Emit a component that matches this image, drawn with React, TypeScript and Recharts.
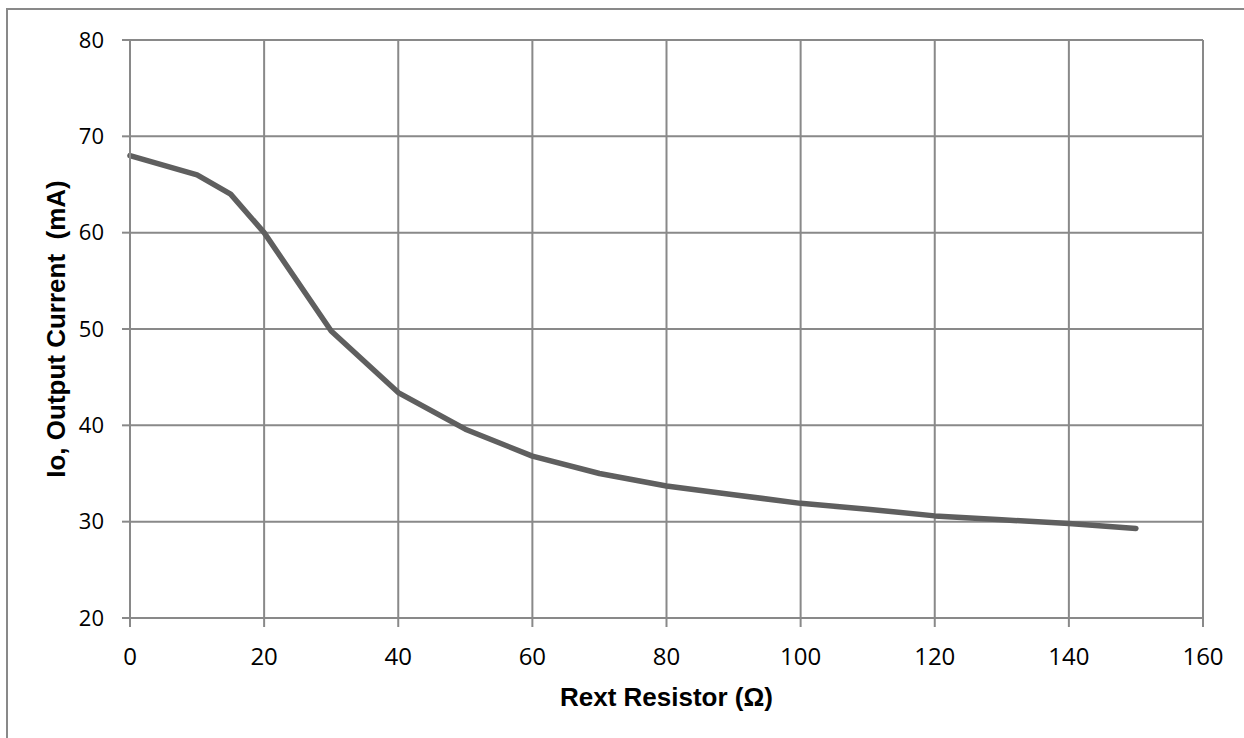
import React from 'react';
import { LineChart, Line, XAxis, YAxis, CartesianGrid, Label } from 'recharts';

// Rext resistor (ohm) vs output current (mA)
const resistance = [0, 10, 15, 20, 30, 40, 50, 60, 70, 80, 90, 100, 110, 120, 130, 140, 150];
const current = [68, 66, 64, 60, 49.8, 43.4, 39.6, 36.8, 35.0, 33.7, 32.8, 31.9, 31.3, 30.6, 30.2, 29.8, 29.3];
const xTicks = [0, 20, 40, 60, 80, 100, 120, 140, 160];
const yTicks = [20, 30, 40, 50, 60, 70, 80];

const data = resistance.map((r, i) => ({ r, io: current[i] }));

const GRID = '#898989';
const TITLE_FONT = '"Liberation Sans", Arial, sans-serif';
const TICK_FONT = '"Open Sans", "Noto Sans", sans-serif';

const XTitle = (props: any) => {
  const { x, y, width } = props.viewBox;
  return (
    <text
      x={x + width / 2}
      y={y + 88}
      textAnchor="middle"
      fontFamily={TITLE_FONT}
      fontWeight="bold"
      fontSize={26}
      fill="#000"
    >
      Rext Resistor (Ω)
    </text>
  );
};

const YTitle = (props: any) => {
  const { y, height } = props.viewBox;
  const cx = 65;
  const cy = y + height / 2;
  return (
    <text
      x={cx}
      y={cy}
      transform={`rotate(-90 ${cx} ${cy})`}
      textAnchor="middle"
      fontFamily={TITLE_FONT}
      fontWeight="bold"
      fontSize={26}
      fill="#000"
      style={{ whiteSpace: 'pre' }}
    >
      {'Io, Output Current  (mA)'}
    </text>
  );
};

export default function App() {
  return (
    <div
      style={{
        position: 'absolute',
        left: 0,
        top: 0,
        width: 1244,
        height: 738,
        overflow: 'hidden',
        background: '#fff',
      }}
    >
      <div
        style={{
          position: 'absolute',
          left: 6,
          top: 8,
          width: 1300,
          height: 800,
          border: `2px solid ${GRID}`,
        }}
      />
      <div style={{ position: 'absolute', left: 0, top: 0 }}>
        <LineChart
          width={1244}
          height={738}
          data={data}
          margin={{ top: 40, right: 41, bottom: 0, left: 0 }}
        >
          <CartesianGrid stroke={GRID} strokeWidth={2} />
          <XAxis
            type="number"
            dataKey="r"
            domain={[0, 160]}
            ticks={xTicks}
            interval={0}
            height={120}
            tickSize={9}
            tickMargin={21}
            axisLine={{ stroke: GRID, strokeWidth: 2 }}
            tickLine={{ stroke: GRID, strokeWidth: 2 }}
            tick={{ fill: '#000', fontSize: 24, fontFamily: TICK_FONT }}
          >
            <Label content={XTitle} />
          </XAxis>
          <YAxis
            type="number"
            domain={[20, 80]}
            ticks={yTicks}
            interval={0}
            width={130}
            tickSize={8}
            tickMargin={18}
            axisLine={{ stroke: GRID, strokeWidth: 2 }}
            tickLine={{ stroke: GRID, strokeWidth: 2 }}
            tick={{ fill: '#000', fontSize: 22, fontFamily: TICK_FONT }}
          >
            <Label content={YTitle} />
          </YAxis>
          <Line
            type="linear"
            dataKey="io"
            stroke="#5f5f5f"
            strokeWidth={5.5}
            strokeLinecap="round"
            strokeLinejoin="round"
            dot={false}
            activeDot={false}
            isAnimationActive={false}
          />
        </LineChart>
      </div>
    </div>
  );
}
